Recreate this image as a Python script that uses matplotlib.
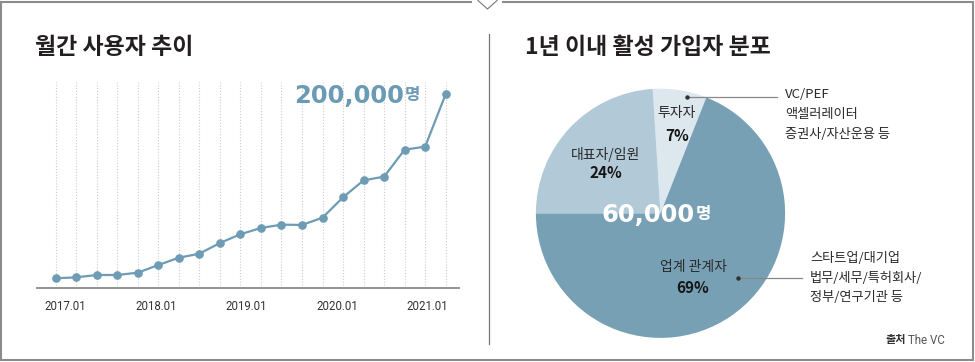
import matplotlib
matplotlib.use("Agg")
import matplotlib.pyplot as plt
from matplotlib.lines import Line2D
import numpy as np

plt.rcParams['font.family'] = ['Noto Sans CJK KR', 'DejaVu Sans']

# ---------------- data ----------------
# monthly users (left chart), 20 sample points
users = [10000, 11000, 13400, 13400, 15800, 23700, 31200, 35400, 46400, 55400,
         61900, 65300, 65000, 72500, 93500, 111000, 114800, 142600, 145700, 200000]
tick_labels = ["2017.01", "2018.01", "2019.01", "2020.01", "2021.01"]
tick_pos = [0.45, 4.88, 9.3, 13.7, 18.1]

# active subscriber distribution (right chart)
pie_labels = ["투자자", "업계 관계자", "대표자/임원"]
pie_values = [7, 69, 24]
pie_colors = ["#dde7ee", "#77a0b5", "#b2c9d7"]

W, H = 975, 362
fig = plt.figure(figsize=(W / 100, H / 100), dpi=100)

def fx(x):
    return x / W

def fy(y):
    return 1 - y / H

def ptext(x, y, s, **kw):
    return fig.text(fx(x), fy(y), s, **kw)

def pline(xs, ys, **kw):
    fig.add_artist(Line2D([fx(v) for v in xs], [fy(v) for v in ys], **kw))

LINE_C = "#6d9cb4"
NARROW = ['Roboto', 'DejaVu Sans']

# ---------------- frame ----------------
fc = "#8c8c8c"
pline([1, 1, 973, 973, 503], [1.5, 360, 360, 1.5, 1.5], color=fc, lw=1.5, solid_joinstyle='miter')
pline([1, 471], [1.5, 1.5], color=fc, lw=1.5)
pline([478, 487.5, 497], [0.5, 9, 0.5], color="#777777", lw=0.8)
pline([489, 489], [34, 344], color="#777777", lw=0.9)

# ---------------- left: line chart ----------------
x = np.arange(len(users))
px_left, px_right = 36.7, 459.0
x0px, x19px = 55.7, 445.7
step = (x19px - x0px) / (len(users) - 1)
xl = -(x0px - px_left) / step
xr = (len(users) - 1) + (px_right - x19px) / step
base_px, top_px = 288, 80
ytop = (base_px - top_px) / 194 * 200000

ax = fig.add_axes([fx(px_left), fy(base_px), (px_right - px_left) / W, (base_px - top_px) / H])
ax.set_xlim(xl, xr)
ax.set_ylim(0, ytop)
ax.vlines(x, 0, ytop * 0.99, colors="#cdcdcd", linestyles=(0, (1.0, 1.6)), lw=0.8, zorder=1)
ax.plot(x, users, color=LINE_C, lw=1.6, marker='o', markersize=5.2, zorder=3, clip_on=False)
for s in ["top", "right", "left"]:
    ax.spines[s].set_visible(False)
ax.spines["bottom"].set_color("#8a8a8a")
ax.spines["bottom"].set_linewidth(1.3)
ax.set_yticks([])
ax.set_xticks(tick_pos)
ax.set_xticklabels(tick_labels, family=NARROW, fontsize=8.3, color="#333333")
ax.tick_params(axis='x', length=0, pad=9)
ax.patch.set_alpha(0)

ptext(35, 47, "월간 사용자 추이", fontsize=16.5, fontweight='bold', color="#231f20", va='center', ha='left')
ptext(404, 96, "200,000", fontsize=17.5, fontweight='bold', family=['DejaVu Sans'],
      color="#6b9ab4", ha='right', va='center')
ptext(404.5, 95, "명", fontsize=12, fontweight='bold', color="#6b9ab4", ha='left', va='center')

# ---------------- right: pie chart ----------------
cx, cy, r = 660.5, 213.3, 124.6
ax2 = fig.add_axes([fx(cx - r), fy(cy + r), 2 * r / W, 2 * r / H])
ax2.pie(pie_values, colors=pie_colors, startangle=93.6, counterclock=False,
        wedgeprops=dict(linewidth=0))
ax2.set_xlim(-1, 1)
ax2.set_ylim(-1, 1)
ax2.set_aspect('equal')
ax2.axis('off')

ptext(525, 47, "1년 이내 활성 가입자 분포", fontsize=16.5, fontweight='bold', color="#231f20", va='center', ha='left')

lab_c = "#2a2a2a"
pct_kw = dict(fontsize=11, fontweight='heavy', color="#151515", ha='center', va='center')
ptext(677, 113, pie_labels[0], fontsize=10, color=lab_c, ha='center', va='center')
ptext(677, 136, f"{pie_values[0]}%", **pct_kw)
ptext(606, 154, pie_labels[2], fontsize=10, color=lab_c, ha='center', va='center')
ptext(606, 173, f"{pie_values[2]}%", **pct_kw)
ptext(693, 267, pie_labels[1], fontsize=10, color=lab_c, ha='center', va='center')
ptext(693, 288, f"{pie_values[1]}%", **pct_kw)

ptext(695, 215, "60,000", fontsize=17.5, fontweight='bold', family=['DejaVu Sans'],
      color="white", ha='right', va='center')
ptext(695.5, 214, "명", fontsize=12, fontweight='bold', color="white", ha='left', va='center')

# annotations
pline([686.7, 776.7], [96.7, 96.7], color="#888888", lw=0.9)
pline([686.7], [96.7], color="#333333", marker='o', markersize=2.2, lw=0)
for i, s in enumerate(["VC/PEF", "액셀러레이터", "증권사/자산운용 등"]):
    ptext(785, 95 + i * 19.5, s, fontsize=9.5, color="#2a2a2a", ha='left', va='center')

pline([738.3, 801.7], [277.7, 277.7], color="#888888", lw=0.9)
pline([738.3], [277.7], color="#333333", marker='o', markersize=2.2, lw=0)
for i, s in enumerate(["스타트업/대기업", "법무/세무/특허회사/", "정부/연구기관 등"]):
    ptext(810, 259 + i * 19.2, s, fontsize=9.5, color="#2a2a2a", ha='left', va='center')

ptext(885, 340, "출처", fontsize=8, fontweight='bold', color="#333333", ha='left', va='center')
ptext(908, 340, "The VC", fontsize=8.3, family=NARROW, color="#555555", ha='left', va='center')

fig.savefig("out.png", dpi=100)
